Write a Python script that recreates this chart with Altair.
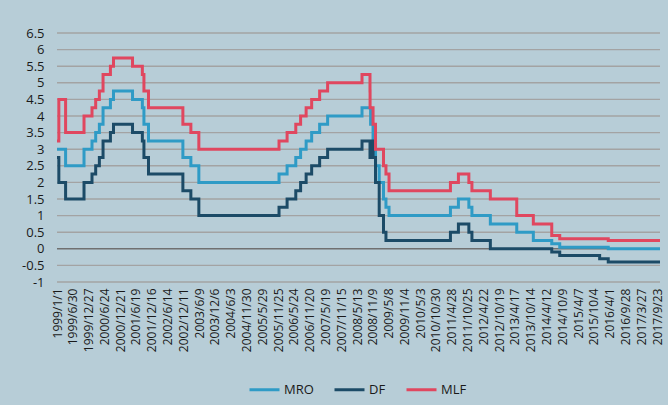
import altair as alt
import pandas as pd

series_names = ["MRO", "DF", "MLF"]
series_colors = ["#2f9bc6", "#1c4b67", "#e0475f"]

mro_dates = ["1999/01/01", "1999/04/09", "1999/11/05", "2000/02/04", "2000/03/17", "2000/04/28",
             "2000/06/09", "2000/09/01", "2000/10/06", "2001/05/11", "2001/08/31", "2001/09/18",
             "2001/11/09", "2002/12/06", "2003/03/07", "2003/06/06", "2005/12/06", "2006/03/08",
             "2006/06/15", "2006/08/09", "2006/10/11", "2006/12/13", "2007/03/14", "2007/06/13",
             "2008/07/09", "2008/10/15", "2008/11/12", "2008/12/10", "2009/01/21", "2009/03/11",
             "2009/04/08", "2009/05/13", "2011/04/13", "2011/07/13", "2011/11/09", "2011/12/14",
             "2012/07/11", "2013/05/08", "2013/11/13", "2014/06/11", "2014/09/10", "2016/03/16",
             "2017/10/27"]
mro_values = [3.0, 2.5, 3.0, 3.25, 3.5, 3.75, 4.25, 4.5, 4.75, 4.5, 4.25, 3.75, 3.25, 2.75, 2.5,
              2.0, 2.25, 2.5, 2.75, 3.0, 3.25, 3.5, 3.75, 4.0, 4.25, 3.75, 3.25, 2.5, 2.0, 1.5,
              1.25, 1.0, 1.25, 1.5, 1.25, 1.0, 0.75, 0.5, 0.25, 0.15, 0.05, 0.0, 0.0]

df_dates = ["1999/01/01", "1999/01/22", "1999/04/09", "1999/11/05", "2000/02/04", "2000/03/17",
            "2000/04/28", "2000/06/09", "2000/09/01", "2000/10/06", "2001/05/11", "2001/08/31",
            "2001/09/18", "2001/11/09", "2002/12/06", "2003/03/07", "2003/06/06", "2005/12/06",
            "2006/03/08", "2006/06/15", "2006/08/09", "2006/10/11", "2006/12/13", "2007/03/14",
            "2007/06/13", "2008/07/09", "2008/10/08", "2008/10/09", "2008/11/12", "2008/12/10",
            "2009/01/21", "2009/03/11", "2009/04/08", "2011/04/13", "2011/07/13", "2011/11/09",
            "2011/12/14", "2012/07/11", "2014/06/11", "2014/09/10", "2015/12/09", "2016/03/16",
            "2017/10/27"]
df_values = [2.75, 2.0, 1.5, 2.0, 2.25, 2.5, 2.75, 3.25, 3.5, 3.75, 3.5, 3.25, 2.75, 2.25, 1.75,
             1.5, 1.0, 1.25, 1.5, 1.75, 2.0, 2.25, 2.5, 2.75, 3.0, 3.25, 2.75, 3.25, 2.75, 2.0,
             1.0, 0.5, 0.25, 0.5, 0.75, 0.5, 0.25, 0.0, -0.1, -0.2, -0.3, -0.4, -0.4]

mlf_dates = ["1999/01/01", "1999/01/22", "1999/04/09", "1999/11/05", "2000/02/04", "2000/03/17",
             "2000/04/28", "2000/06/09", "2000/09/01", "2000/10/06", "2001/05/11", "2001/08/31",
             "2001/09/18", "2001/11/09", "2002/12/06", "2003/03/07", "2003/06/06", "2005/12/06",
             "2006/03/08", "2006/06/15", "2006/08/09", "2006/10/11", "2006/12/13", "2007/03/14",
             "2007/06/13", "2008/07/09", "2008/10/08", "2008/10/09", "2008/11/12", "2008/12/10",
             "2009/03/11", "2009/04/08", "2009/05/13", "2011/04/13", "2011/07/13", "2011/11/09",
             "2011/12/14", "2012/07/11", "2013/05/08", "2013/11/13", "2014/06/11", "2014/09/10",
             "2016/03/16", "2017/10/27"]
mlf_values = [3.25, 4.5, 3.5, 4.0, 4.25, 4.5, 4.75, 5.25, 5.5, 5.75, 5.5, 5.25, 4.75, 4.25, 3.75,
              3.5, 3.0, 3.25, 3.5, 3.75, 4.0, 4.25, 4.5, 4.75, 5.0, 5.25, 4.75, 4.25, 3.75, 3.0,
              2.5, 2.25, 1.75, 2.0, 2.25, 2.0, 1.75, 1.5, 1.0, 0.75, 0.4, 0.3, 0.25, 0.25]

x_labels = ["1999/1/1", "1999/6/30", "1999/12/27", "2000/6/24", "2000/12/21", "2001/6/19",
            "2001/12/16", "2002/6/14", "2002/12/11", "2003/6/9", "2003/12/6", "2004/6/3",
            "2004/11/30", "2005/5/29", "2005/11/25", "2006/5/24", "2006/11/20", "2007/5/19",
            "2007/11/15", "2008/5/13", "2008/11/9", "2009/5/8", "2009/11/4", "2010/5/3",
            "2010/10/30", "2011/4/28", "2011/10/25", "2012/4/22", "2012/10/19", "2013/4/17",
            "2013/10/14", "2014/4/12", "2014/10/9", "2015/4/7", "2015/10/4", "2016/4/1",
            "2016/9/28", "2017/3/27", "2017/9/23"]
y_ticks = [-1, -0.5, 0, 0.5, 1, 1.5, 2, 2.5, 3, 3.5, 4, 4.5, 5, 5.5, 6, 6.5]
x_start = "1999/01/01"
x_end = "2017/10/27"

rows = []
# gridlines first so they are drawn beneath the series
for v in y_ticks:
    kind = "zero" if v == 0 else "grid"
    for d in (x_start, x_end):
        rows.append({"kind": kind, "gid": "g" + str(v), "date": d, "value": v})
for name, ds, vs in [("MRO", mro_dates, mro_values), ("DF", df_dates, df_values), ("MLF", mlf_dates, mlf_values)]:
    for d, v in zip(ds, vs):
        rows.append({"kind": name, "gid": name, "date": d, "value": v})
data = pd.DataFrame(rows)

tick_vals = []
for s in x_labels:
    y, m, d = s.split("/")
    tick_vals.append(alt.DateTime(year=int(y), month=int(m), date=int(d)))

FONT = "Open Sans"
BG = "#b7cdd7"

y_axis = alt.Axis(values=y_ticks, labelExpr="'' + datum.value", grid=False, ticks=False,
                  domain=False, labelPadding=13, labelFont=FONT, labelFontSize=13,
                  labelColor="#1a1a1a", labelOverlap=False, labelFlush=False, labelBound=False)
x_axis = alt.Axis(values=tick_vals, format="%Y/%-m/%-d", labelAngle=-90, grid=False,
                  ticks=False, domain=False, labelOverlap=False, labelBound=False,
                  labelFlush=False, labelPadding=6, labelFont=FONT, labelFontSize=12,
                  labelColor="#1a1a1a")

chart = alt.Chart(data).mark_line(interpolate="step-after").encode(
    x=alt.X("date:T", title=None,
            scale=alt.Scale(domain=[alt.DateTime(year=1999, month=1, date=1),
                                    alt.DateTime(year=2017, month=10, date=27)]),
            axis=x_axis),
    y=alt.Y("value:Q", title=None, scale=alt.Scale(domain=[-1, 6.5], nice=False, zero=False),
            axis=y_axis),
    color=alt.Color(
        "kind:N",
        scale=alt.Scale(domain=series_names + ["grid", "zero"],
                        range=series_colors + ["#a3a3a3", "#707070"]),
        legend=alt.Legend(title=None, values=series_names, orient="none", legendX=191,
                          legendY=340, direction="horizontal", symbolType="stroke",
                          symbolSize=900, symbolStrokeWidth=3, labelFont=FONT, labelFontSize=13,
                          labelColor="#1a1a1a", columnPadding=14, labelOffset=3),
    ),
    detail="gid:N",
    strokeWidth=alt.condition("datum.kind === 'grid' || datum.kind === 'zero'",
                              alt.value(1.4), alt.value(3)),
    order=alt.Order("date:T"),
).properties(
    width=603, height=249,
    background=BG,
    padding={"left": 57, "top": 33, "right": 8, "bottom": 123},
    autosize=alt.AutoSizeParams(type="none"),
).configure_view(stroke=None)

chart.save("out.html", embed_options={"renderer": "svg", "actions": False})
